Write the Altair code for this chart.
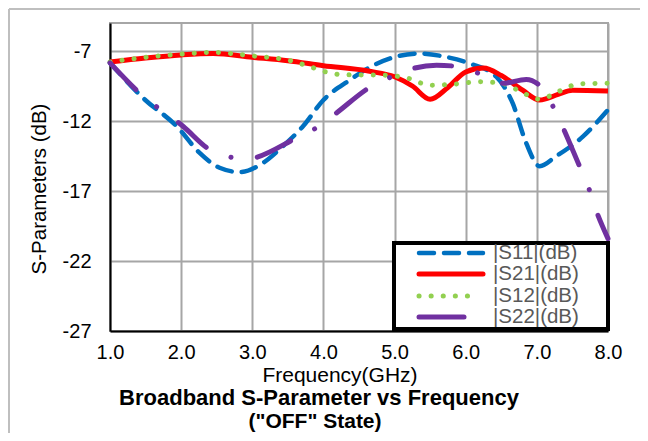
import altair as alt
import pandas as pd

# ---- data ----
s11_f = [1.0, 1.47, 1.94, 2.26, 2.54, 2.83, 3.15, 3.43, 3.71, 4.0, 4.37, 4.62, 5.0, 5.35, 5.73, 6.06, 6.43, 6.66, 6.85, 7.04, 7.27, 7.65, 8.0]
s11_v = [-7.85, -10.38, -12.39, -14.28, -15.34, -15.65, -14.99, -13.8, -12.39, -10.5, -9.08, -8.25, -7.43, -7.18, -7.43, -7.9, -8.84, -10.73, -13.57, -15.23, -14.52, -13.1, -11.2]

s21_f = [1.0, 1.5, 2.0, 2.45, 3.0, 3.5, 4.0, 4.65, 5.0, 5.25, 5.5, 5.75, 6.0, 6.25, 6.5, 6.8, 7.04, 7.3, 7.5, 8.0]
s21_v = [-7.78, -7.5, -7.28, -7.18, -7.45, -7.7, -8.05, -8.45, -8.84, -9.5, -10.45, -9.6, -8.5, -8.22, -8.75, -9.8, -10.5, -10.1, -9.8, -9.86]

s12_f = [1.0, 1.5, 2.0, 2.45, 3.0, 3.5, 3.8, 4.0, 4.3, 4.8, 5.2, 5.5, 5.8, 6.2, 6.5, 6.85, 7.04, 7.3, 7.6, 8.0]
s12_v = [-7.78, -7.45, -7.22, -7.1, -7.35, -7.65, -8.1, -8.45, -8.7, -8.72, -8.96, -9.45, -9.38, -9.2, -9.3, -10.1, -10.45, -9.9, -9.35, -9.3]

s22_f = [1.0, 1.42, 2.03, 2.4, 2.73, 2.9, 3.06, 3.62, 3.92, 4.18, 4.65, 5.0, 5.26, 5.59, 5.91, 6.24, 6.52, 6.85, 7.08, 7.24, 7.37, 7.6, 7.72, 7.81, 8.0]
s22_v = [-7.85, -10.02, -12.39, -14.04, -14.63, -14.8, -14.6, -13.21, -12.43, -11.44, -9.6, -8.75, -8.25, -8.01, -8.13, -8.72, -9.31, -9.03, -9.67, -11.09, -12.5, -15.23, -16.65, -18.06, -20.4]

x_ticks = [1, 2, 3, 4, 5, 6, 7, 8]
y_ticks = [-27, -22, -17, -12, -7]
legend_labels = ["|S11|(dB)", "|S21|(dB)", "|S12|(dB)", "|S22|(dB)"]

FONT = "Liberation Sans"
W, H = 498, 308

x_enc = alt.X("f:Q", scale=alt.Scale(domain=[1, 8], nice=False, zero=False),
              axis=alt.Axis(values=x_ticks, format=".1f", title=None, labelPadding=11,
                            labelFlush=False, labelOverlap=False))
y_enc = alt.Y("v:Q", scale=alt.Scale(domain=[-27, -5], nice=False, zero=False),
              axis=alt.Axis(values=y_ticks, title=None, labelPadding=19,
                            labelExpr="'' + datum.value", labelFlush=False))


def line_layer(f, v, color, width, dash=None, cap="butt"):
    df = pd.DataFrame({"f": f, "v": v})
    kw = dict(color=color, strokeWidth=width, interpolate="monotone", strokeCap=cap)
    if dash is not None:
        kw["strokeDash"] = dash
    return alt.Chart(df).mark_line(**kw).encode(x=x_enc, y=y_enc, order=alt.Order("f:Q"))


blue, red, green, purple = "#0070C0", "#FF0000", "#92D050", "#7030A0"
dash11 = [15, 10]
dash12 = [0.1, 12]
dash22 = [37, 27, 0.1, 27]

l11 = line_layer(s11_f, s11_v, blue, 4.5, dash11, "round")
l21 = line_layer(s21_f, s21_v, red, 5)
l12 = line_layer(s12_f, s12_v, green, 5, dash12, "round")
l22 = line_layer(s22_f, s22_v, purple, 5, dash22, "round")

one = pd.DataFrame({"a": [0]})


def text_layer(txt, x, y, size, bold=False, angle=0, color="#000000", align="center"):
    return alt.Chart(one).mark_text(
        text=txt, font=FONT, fontSize=size, fontWeight="bold" if bold else "normal",
        angle=angle, color=color, align=align, baseline="middle"
    ).encode(x=alt.value(x), y=alt.value(y))


def rule_layer(x1, y1, x2, y2, color, width, dash=None, cap="butt"):
    kw = dict(color=color, strokeWidth=width, strokeCap=cap)
    if dash is not None:
        kw["strokeDash"] = dash
    return alt.Chart(one).mark_rule(**kw).encode(
        x=alt.value(x1), y=alt.value(y1), x2=alt.value(x2), y2=alt.value(y2))


# outer chart-area border (left and top)
border_l = rule_layer(-101, -14, -101, 410, "#BFBFBF", 2)
border_t = rule_layer(-101, -14, 530, -14, "#BFBFBF", 2)

# titles
t_x = text_layer("Frequency(GHz)", 230, 353, 21)
t_y = text_layer("S-Parameters (dB)", -70, 166, 20.5, angle=270)
t_1 = text_layer("Broadband S-Parameter vs Frequency", 209, 375, 22, bold=True)
t_2 = text_layer('("OFF" State)', 205, 399, 21, bold=True)

# legend
box = alt.Chart(one).mark_rect(fill="white", stroke="black", strokeWidth=4).encode(
    x=alt.value(284), x2=alt.value(498), y=alt.value(220), y2=alt.value(306))
rows = [230, 251, 273, 294]
sym = [
    rule_layer(309, rows[0], 373, rows[0], blue, 4.5, dash11, "round"),
    rule_layer(309, rows[1], 373, rows[1], red, 5, None, "round"),
    rule_layer(309, rows[2], 363, rows[2], green, 5, dash12, "round"),
    rule_layer(309, rows[3], 354, rows[3], purple, 5, None, "round"),
]
labs = [text_layer(legend_labels[i], 383, rows[i], 20.5, color="#595959", align="left") for i in range(4)]

chart = alt.layer(
    l11, l21, l12, l22, border_l, border_t, t_x, t_y, t_1, t_2, box, *sym, *labs
).properties(
    width=W, height=H,
    autosize=alt.AutoSizeParams(type="none"),
    padding={"left": 102, "top": 15, "right": 32, "bottom": 102},
).configure_view(
    stroke="#A6A6A6", strokeWidth=2
).configure_axis(
    grid=True, gridColor="#A6A6A6", gridWidth=2,
    domainColor="#000000", domainWidth=2, ticks=False,
    labelFont=FONT, labelFontSize=20, labelColor="#000000",
)

chart.save("out.html", embed_options={"renderer": "svg", "actions": False})
